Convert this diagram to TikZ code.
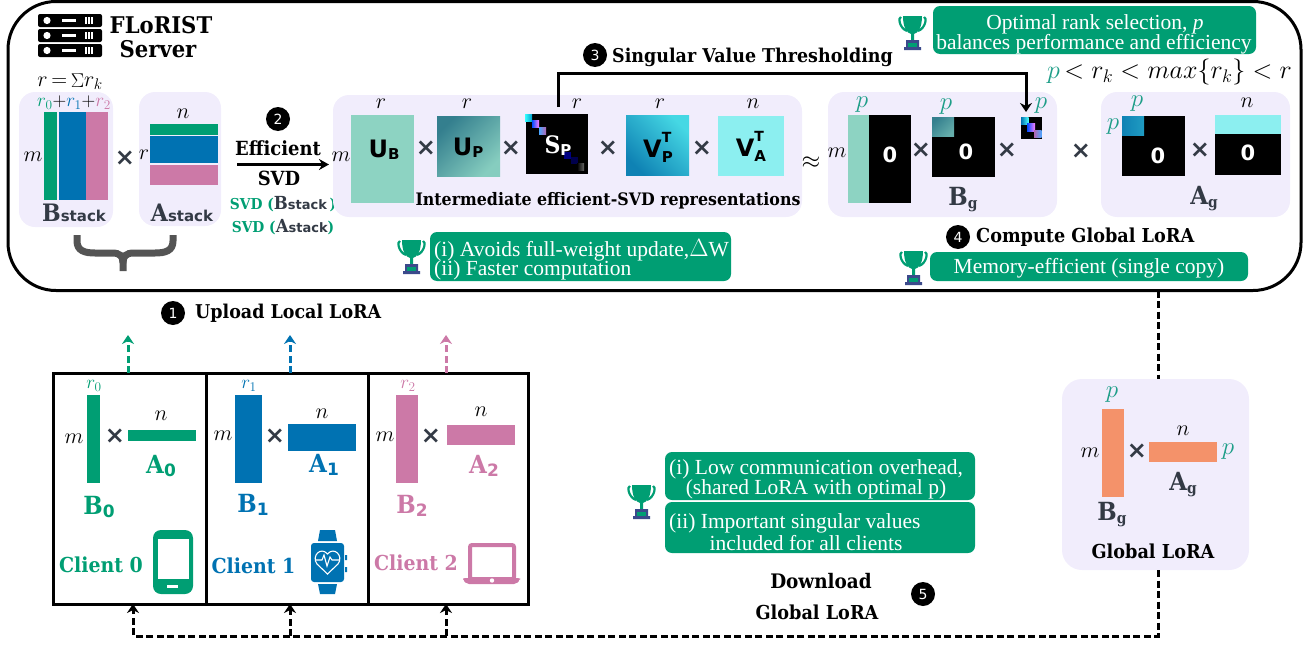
\documentclass[tikz,border=0pt]{standalone}
\usepackage{fix-cm}
\usepackage{fontspec}
\setmainfont{Liberation Serif}
\newfontfamily\capfont[FakeStretch=0.92]{DejaVu Serif}
\newfontfamily\symfont{DejaVu Sans}
\usetikzlibrary{arrows.meta}
\definecolor{cgreen}{HTML}{009E73}
\definecolor{cteal}{HTML}{1E9E88}
\definecolor{cblue}{HTML}{0072B2}
\definecolor{cpink}{HTML}{CC79A7}
\definecolor{corange}{HTML}{F4926A}
\definecolor{cpanel}{HTML}{F1EDFC}
\definecolor{cink}{HTML}{333A45}
\definecolor{cub}{HTML}{8DD3C2}
\definecolor{cva}{HTML}{8CEFF0}
\definecolor{cupd}{HTML}{347F8E}
\definecolor{cupl}{HTML}{86CDBF}
\definecolor{cvpd}{HTML}{0F82B4}
\definecolor{cvpl}{HTML}{45D8E4}
\definecolor{cbase}{HTML}{3B4A8B}
\newcommand{\fs}[1]{\fontsize{#1}{#1}\selectfont}
\newcommand{\mainlab}[2]{{\fs{24}\capfont\bfseries #1}{\fs{15}\symfont\bfseries #2}}
\newcommand{\clab}[2]{{\fs{25}\capfont\bfseries #1}\raisebox{-3pt}{\fs{17}\symfont\bfseries #2}}
\newcommand{\glab}[1]{{\fs{25}\capfont\bfseries #1}\raisebox{-3pt}{\fs{15}\capfont\bfseries g}}
\newcommand{\flab}[2]{{\fs{24}\symfont\bfseries #1}\raisebox{-2pt}{\fs{15}\symfont\bfseries #2}}
\newcommand{\tlab}[3]{{\fs{24}\symfont\bfseries #1}\rlap{\raisebox{15pt}{\fs{14}\symfont\bfseries #2}}\raisebox{-5pt}{\fs{15}\symfont\bfseries #3}}
\tikzset{
  panel/.style={fill=cpanel,rounded corners=16,inner sep=0,outer sep=0,anchor=north west},
  mat/.style={inner sep=0,outer sep=0,anchor=north west},
  mlab/.style={inner sep=0,font=\fs{22},text=black},
  plab/.style={inner sep=0,font=\fs{25},text=cteal},
  xsign/.style={inner sep=0,font=\fs{24}\symfont\bfseries,text=cink},
  head/.style={inner sep=0,font=\fs{19}\capfont\bfseries},
  badge/.style={circle,fill=black,text=white,minimum size=24,inner sep=0,font=\fs{14}\symfont},
  gainbox/.style={fill=cgreen,rounded corners=7,inner sep=0,outer sep=0,anchor=north west},
  gain/.style={inner sep=0,text=white,font=\fs{21.5}},
  zero/.style={inner sep=0,text=white,font=\fs{21}\symfont\bfseries},
  up/.style={line width=3,dash pattern=on 7 off 3.5,-{Stealth[length=9,width=12]}},
  dl/.style={line width=3,dash pattern=on 7 off 3.5},
  trophy/.pic={
    \draw[cgreen,line width=2.2] (3,1) .. controls (0,1) and (1,12) .. (9,15);
    \draw[cgreen,line width=2.2] (26,1) .. controls (29,1) and (28,12) .. (20,15);
    \fill[cgreen] (5,0) -- (24,0) .. controls (24,12) and (20,17) .. (16,18) -- (16,26) -- (13,26) -- (13,18) .. controls (9,17) and (5,12) .. (5,0) -- cycle;
    \fill[cbase] (8,24) -- (21,24) -- (21,31) -- (23,31) -- (23,34) -- (6,34) -- (6,31) -- (8,31) -- cycle;
    \fill[cgreen] (10,26.5) rectangle (19,31);
  },
  rack/.pic={
    \foreach \y in {0,15,30} {
      \fill[black,rounded corners=2] (0,\y) rectangle (64,\y+13);
      \fill[white] (9,\y+6.5) circle (3.6);
      \fill[white] (24,\y+5) rectangle (38,\y+8);
      \foreach \x in {47,50,53} \fill[white] (\x,\y+3) rectangle (\x+1.5,\y+10);
    }
  },
  phone/.pic={
    \fill[cgreen,rounded corners=8] (0,0) rectangle (40,64);
    \fill[white] (4.5,9) rectangle (35.5,49);
    \fill[white] (14,55) rectangle (25,58);
  },
  watch/.pic={
    \fill[cblue] (9,0) -- (24,0) -- (26,11) -- (7,11) -- cycle;
    \fill[cblue] (7,54) -- (26,54) -- (24,64) -- (9,64) -- cycle;
    \fill[cblue,rounded corners=3] (0,13) rectangle (33,52);
    \fill[cblue] (34,25) rectangle (36,30) (34,37) rectangle (36,42);
    \draw[white,line width=1.1] (16.5,44) -- (6,34) .. controls (0,26) and (10,16) .. (16.5,24) .. controls (23,16) and (33,26) .. (27,34) -- cycle;
    \draw[white,line width=1.1] (5,30) -- (11,30) -- (13,25) -- (16,36) -- (19,27) -- (21,30) -- (28,30);
  },
  laptop/.pic={
    \draw[cpink,line width=4,rounded corners=2] (7,2) rectangle (51,36);
    \fill[cpink,rounded corners=2] (0,35) -- (57,35) -- (57,37) -- (53,41) -- (4,41) -- (0,37) -- cycle;
    \fill[white] (29,37.5) circle (2.2);
  }
}
\begin{document}
\begin{tikzpicture}[x=1pt,y=-1pt]
  \useasboundingbox (0,0) rectangle (1310,645);
  % server
  \node[draw=black,line width=3,rounded corners=48,minimum width=1293,minimum height=289,inner sep=0,outer sep=0,anchor=north west] (server) at (8,1.5) {};
  \pic at (38,14) {rack};
  \node[head,font=\fs{23}\capfont\bfseries] (florist) at (161,25) {FLoRIST};
  \node[head,font=\fs{23}\capfont\bfseries] (srv) at (158,49) {Server};
  % stacked factors
  \node[mlab] (rsum) at (70,82) {$r\,{=}\,$\raisebox{-1pt}{\fs{20}$\Sigma$}$r_k$};
  \node[panel,minimum width=94,minimum height=135] (bstack) at (19,92) {};
  \node[panel,minimum width=82,minimum height=134] (astack) at (139,92) {};
  \node[mlab,font=\fs{19}] (rparts) at (74,103) {$\textcolor{cgreen}{r_0}{+}\textcolor{cblue}{r_1}{+}\textcolor{cpink}{r_2}$};
  \node[mat,fill=cgreen,minimum width=13,minimum height=88] (bs0) at (44,112) {};
  \node[mat,fill=cblue,minimum width=27,minimum height=88] (bs1) at (59,112) {};
  \node[mat,fill=cpink,minimum width=22,minimum height=88] (bs2) at (86,112) {};
  \node[mlab] (bsm) at (33,157) {$m$};
  \node[xsign] (x0) at (125,158) {×};
  \node[mlab] (asr) at (144,155) {$r$};
  \node[mlab] (asn) at (183,114) {$n$};
  \node[mat,fill=cgreen,minimum width=68,minimum height=11] (as0) at (150,124) {};
  \node[mat,fill=cblue,minimum width=68,minimum height=27] (as1) at (150,136) {};
  \node[mat,fill=cpink,minimum width=68,minimum height=20] (as2) at (150,165) {};
  \node[inner sep=0,text=cink] (bslab) at (74,213) {\mainlab{B}{stack}};
  \node[inner sep=0,text=cink] (aslab) at (182,213) {\mainlab{A}{stack}};
  \draw[line width=7,draw=black!67] (77,235) -- (77,241) .. controls (77,251) and (85,253) .. (95,253) -- (112,253) .. controls (120,253) and (123,256) .. (123,263) -- (123,271);
  \draw[line width=7,draw=black!67] (173,235) -- (173,241) .. controls (173,251) and (165,253) .. (155,253) -- (134,253) .. controls (126,253) and (123,256) .. (123,263);
  % efficient svd
  \node[badge] (b2) at (278,119) {2};
  \node[head,font=\fs{19.5}\capfont\bfseries] (eff) at (278,148) {Efficient};
  \node[head,font=\fs{19.5}\capfont\bfseries] (svd) at (279,178) {SVD};
  \coordinate (svdin) at (237,164.5);
  \coordinate (svdout) at (329,164.5);
  \draw[line width=3,-{Stealth[length=10,width=11]}] (svdin) -- (svdout);
  \node[inner sep=0,text=cgreen,font=\fs{15}\capfont\bfseries] (svdb) at (283,204) {SVD ({\color{cink}\fs{18}B\fs{13}\symfont\bfseries stack}\,)};
  \node[inner sep=0,text=cgreen,font=\fs{15}\capfont\bfseries] (svda) at (283,227) {SVD ({\color{cink}\fs{18}A\fs{13}\symfont\bfseries stack})};
  % intermediate representations
  \node[panel,minimum width=469,minimum height=122] (inter) at (333,95) {};
  \node[mlab] (im) at (341,157) {$m$};
  \foreach \n/\x/\t in {r1/381/r,r2/467/r,r3/577/r,r4/660/r,n1/753/n}
    \node[mlab] (\n) at (\x,104) {$\t$};
  \node[mat,fill=cub,minimum width=63,minimum height=88] (ub) at (351,115) {};
  \node[mat,top color=cupd,bottom color=cupl,shading angle=45,minimum width=63,minimum height=60] (up) at (437,116) {};
  \node[mat,fill=black,minimum width=62,minimum height=60] (sp) at (526,114) {};
  \node[mat,top color=cvpl,bottom color=cvpd,shading angle=-45,minimum width=63,minimum height=60] (vp) at (626,115) {};
  \node[mat,fill=cva,minimum width=66,minimum height=60] (va) at (718,116) {};
  \node[mat,left color=cyan!80!white,right color=cblue!70!cyan,minimum size=7] (d1) at (525,114) {};
  \node[mat,left color=blue!70!cyan,right color=magenta!50!white,minimum size=7] (d2) at (532,120) {};
  \node[mat,left color=cyan!50!blue!70!white,right color=violet!60!white,minimum size=7] (d3) at (539,127) {};
  \node[mat,fill=blue!50!black,minimum size=6.5] (d4) at (564,152) {};
  \node[mat,fill=blue!30!black,minimum size=7] (d5) at (571,157) {};
  \node[mat,left color=black,right color=black!60,minimum size=7] (d6) at (577,163) {};
  \node[inner sep=0] (ubl) at (384,150) {\flab{U}{B}};
  \node[inner sep=0] (upl) at (468,148) {\flab{U}{P}};
  \node[inner sep=0,text=white] (spl) at (558,146) {{\fs{24}\capfont\bfseries S}\raisebox{-2pt}{\fs{15}\symfont\bfseries P}};
  \node[inner sep=0] (vpl) at (658,147) {\tlab{V}{T}{P}};
  \node[inner sep=0] (val) at (751,146) {\tlab{V}{T}{A}};
  \foreach \n/\x in {x1/426,x2/511,x3/608,x4/702}
    \node[xsign] (\n) at (\x,148) {×};
  \node[head,font=\fs{17.2}\capfont\bfseries] (ilab) at (608,201) {Intermediate efficient-SVD representations};
  \node[mlab,font=\fs{24}] (approx) at (811,163) {$\approx$};
  % global factors
  \node[panel,minimum width=229,minimum height=125] (bg) at (828,92) {};
  \node[panel,minimum width=189,minimum height=125] (ag) at (1101,92) {};
  \foreach \n/\x/\y in {p1/862/105,p2/946/107,p3/1041/106,p4/1113/127,p5/1137/104}
    \node[plab] (\n) at (\x,\y) {$p$};
  \node[mlab] (gm) at (837,153) {$m$};
  \node[mlab] (gn) at (1247,103) {$n$};
  \node[mat,fill=black,minimum width=63,minimum height=88] (bg1) at (848,115) {};
  \node[mat,fill=cub,minimum width=21,minimum height=88] (bg1a) at (848,115) {};
  \node[mat,fill=black,minimum width=63,minimum height=60] (bg2) at (932,117) {};
  \node[mat,top color=cupd,bottom color=cupl!60!cupd,shading angle=45,minimum width=22,minimum height=19] (bg2a) at (932,117) {};
  \node[mat,fill=black,minimum width=21,minimum height=22] (sg) at (1021,117) {};
  \node[mat,left color=cblue,right color=cyan!70!white,minimum size=7.5] (sg1) at (1021,117) {};
  \node[mat,left color=blue!70!cyan,right color=magenta!50!white,minimum size=8] (sg2) at (1027,123) {};
  \node[mat,left color=violet!60!white,right color=cyan!50!blue!70!white,minimum size=7.5] (sg3) at (1034,130) {};
  \node[mat,fill=black,minimum width=63,minimum height=60] (ag1) at (1122,116) {};
  \node[mat,left color=cvpd,right color=cvpd!70!cvpl,minimum width=22,minimum height=19] (ag1a) at (1122,116) {};
  \node[mat,fill=black,minimum width=66,minimum height=60] (ag2) at (1215,115) {};
  \node[mat,fill=cva,minimum width=66,minimum height=19] (ag2a) at (1215,115) {};
  \foreach \n/\x/\y in {z1/890/155,z2/966/152,z3/1158/156,z4/1248/153}
    \node[zero] (\n) at (\x,\y) {0};
  \foreach \n/\x/\y in {x5/921/150,x6/1007/150,x7/1081/151,x8/1200/150}
    \node[xsign] (\n) at (\x,\y) {×};
  \node[inner sep=0,text=cink] (bgl) at (963,200) {\glab{B}};
  \node[inner sep=0,text=cink] (agl) at (1204,199) {\glab{A}};
  \node[badge] (b4) at (958,237) {4};
  \node[head,anchor=west,font=\fs{19.2}\capfont\bfseries] (comp) at (976,237) {Compute Global LoRA};
  % threshold
  \node[badge] (b3) at (595,55) {3};
  \node[head,anchor=west] (thr) at (612,57) {Singular Value Thresholding};
  \coordinate (thrin) at (558,107);
  \coordinate (thrup) at (558,73);
  \coordinate (thrdn) at (1026,73);
  \coordinate (thrend) at (1026,112);
  \draw[line width=3,draw=black,-{Stealth[length=9,width=12]}] (thrin) -- (thrup) -- (thrdn) -- (thrend);
  % rank inequality
  \node[mlab,font=\fs{26},anchor=west] (ineq) at (1047,72) {$\textcolor{cteal}{p}\,{<}\; r_k < max\{r_k\} < r$};
  % gains
  \pic at (898,16) {trophy};
  \node[gainbox,minimum width=323,minimum height=48] (g1) at (933,6) {};
  \node[gain] (g1a) at (1095,24) {Optimal rank selection, \textit{p}};
  \node[gain] (g1b) at (1094,44) {balances performance and efficiency};
  \pic at (899,251) {trophy};
  \node[gainbox,minimum width=318,minimum height=29] (g2) at (930,252) {};
  \node[gain] (g2a) at (1089,268) {Memory-efficient (single copy)};
  \pic at (397,240) {trophy};
  \node[gainbox,minimum width=301,minimum height=49] (g3) at (430,232) {};
  \node[gain,anchor=west] (g3a) at (434,250) {(i) Avoids full-weight update,{\fs{25}$\Delta$}W};
  \node[gain,anchor=west] (g3b) at (434,270) {(ii) Faster computation};
  \pic at (627,485) {trophy};
  \node[gainbox,minimum width=310,minimum height=48] (g4) at (665,452) {};
  \node[gain,anchor=west] (g4a) at (669,469) {(i) Low communication overhead,};
  \node[gain] (g4b) at (816,489) {(shared LoRA with optimal p)};
  \node[gainbox,minimum width=310,minimum height=51] (g5) at (665,502) {};
  \node[gain,anchor=west] (g5a) at (669,523) {(ii) Important singular values};
  \node[gain] (g5b) at (806,543) {included for all clients};
  % clients
  \node[badge] (b1) at (173,313) {1};
  \node[head,anchor=west] (uplab) at (195,313) {Upload Local LoRA};
  \node[draw=black,line width=3,mat,minimum width=153,minimum height=231] (c0) at (53,373) {};
  \node[draw=black,line width=3,mat,minimum width=162,minimum height=231] (c1) at (206,373) {};
  \node[draw=black,line width=3,mat,minimum width=160,minimum height=231] (c2) at (368,373) {};
  \coordinate (up0) at (128,335);
  \coordinate (up1) at (290,335);
  \coordinate (up2) at (446,335);
  \draw[up,draw=cgreen] (c0.north -| up0) -- (up0);
  \draw[up,draw=cblue] (c1.north -| up1) -- (up1);
  \draw[up,draw=cpink] (c2.north -| up2) -- (up2);
  \node[mlab,font=\fs{19},text=cgreen] (r0) at (94,386) {$r_0$};
  \node[mlab,font=\fs{19},text=cblue] (r1c) at (249,386) {$r_1$};
  \node[mlab,font=\fs{19},text=cpink] (r2c) at (408,386) {$r_2$};
  \node[mat,fill=cgreen,minimum width=13,minimum height=88] (b0) at (87,395) {};
  \node[mat,fill=cblue,minimum width=27,minimum height=88] (b1m) at (235,395) {};
  \node[mat,fill=cpink,minimum width=22,minimum height=88] (b2m) at (396,395) {};
  \node[mat,fill=cgreen,minimum width=68,minimum height=11] (a0) at (128,430) {};
  \node[mat,fill=cblue,minimum width=68,minimum height=27] (a1) at (288,424) {};
  \node[mat,fill=cpink,minimum width=68,minimum height=20] (a2) at (447,425) {};
  \foreach \n/\x/\y in {m0/74/439,m1/223/436,m2/385/437}
    \node[mlab] (\n) at (\x,\y) {$m$};
  \foreach \n/\x/\y in {n0/161/416,n1c/322/414,n2/481/412}
    \node[mlab] (\n) at (\x,\y) {$n$};
  \foreach \n/\x in {xc0/115,xc1/275,xc2/431}
    \node[xsign] (\n) at (\x,436) {×};
  \node[inner sep=0,text=cgreen] (a0l) at (161,466) {\clab{A}{0}};
  \node[inner sep=0,text=cblue] (a1l) at (324,465) {\clab{A}{1}};
  \node[inner sep=0,text=cpink] (a2l) at (484,466) {\clab{A}{2}};
  \node[inner sep=0,text=cgreen] (b0l) at (99,507) {\clab{B}{0}};
  \node[inner sep=0,text=cblue] (b1l) at (253,505) {\clab{B}{1}};
  \node[inner sep=0,text=cpink] (b2l) at (412,506) {\clab{B}{2}};
  \node[head,text=cgreen,font=\fs{20.6}\capfont\bfseries] (cl0) at (101,565) {Client 0};
  \node[head,text=cblue,font=\fs{20.6}\capfont\bfseries] (cl1) at (253.5,566) {Client 1};
  \node[head,text=cpink,font=\fs{20.6}\capfont\bfseries] (cl2) at (416,563) {Client 2};
  \pic at (153,530) {phone};
  \pic at (311,530) {watch};
  \pic at (463,543) {laptop};
  % global lora
  \coordinate (dn) at (1158,636);
  \coordinate (in0) at (133,636);
  \coordinate (in1) at (290,636);
  \coordinate (in2) at (446,636);
  \node[panel,rounded corners=20,minimum width=187,minimum height=191] (glob) at (1062,379) {};
  \draw[dl] (server.south -| dn) -- (glob.north -| dn);
  \draw[up] (glob.south -| dn) -- (dn) -- (in0) -- (c0.south -| in0);
  \draw[up] (in1) -- (c1.south -| in1);
  \draw[up] (in2) -- (c2.south -| in2);
  \node[plab] (gp1) at (1112,395) {$p$};
  \node[mlab] (gm2) at (1090,453) {$m$};
  \node[mat,fill=corange,minimum width=22,minimum height=88] (gb) at (1102,409) {};
  \node[xsign] (gx) at (1137,451) {×};
  \node[mlab] (gn2) at (1183,431) {$n$};
  \node[mat,fill=corange,minimum width=68,minimum height=20] (ga) at (1149,442) {};
  \node[plab] (gp2) at (1228,452) {$p$};
  \node[inner sep=0,text=cink] (gal) at (1183,485) {\glab{A}};
  \node[inner sep=0,text=cink] (gbl) at (1112,515) {\glab{B}};
  \node[head,font=\fs{19.2}\capfont\bfseries] (gname) at (1153,551) {Global LoRA};
  \node[head,font=\fs{20}\capfont\bfseries] (dw1) at (821,581) {Download};
  \node[head,font=\fs{19.2}\capfont\bfseries] (dw2) at (817,612) {Global LoRA};
  \node[badge] (b5) at (923,594) {5};
\end{tikzpicture}
\end{document}
